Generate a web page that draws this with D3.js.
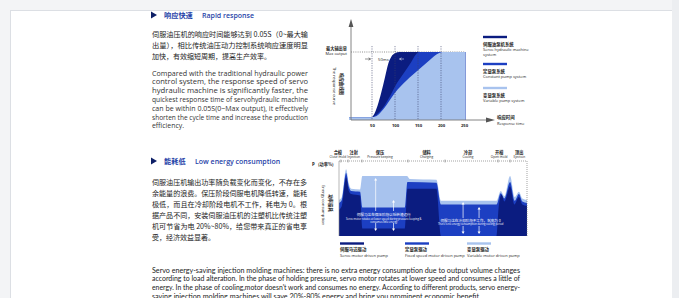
<!DOCTYPE html>
<html><head><meta charset="utf-8">
<script src="https://cdn.jsdelivr.net/npm/d3@7"></script>
<style>html,body{margin:0;padding:0;background:#f3f4f6;overflow:hidden}svg{display:block}</style>
</head><body>
<svg id="c" width="679" height="298"></svg>
<script>
// ---------- DATA ----------
// Chart 1: response curves (time ms, output %)
const respTicks = [50, 100, 150, 200, 250];
const servoT = [0, 48, 55, 62, 70, 78, 85, 92, 100, 110, 253];
const servoV = [4, 4, 9, 21, 40, 62, 82, 93, 98, 100, 100];
const constT = [0, 48, 60, 75, 90, 105, 120, 135, 145, 152, 253];
const constV = [4, 4, 8, 19, 36, 55, 70, 85, 96, 100, 100];
const varT = [0, 48, 60, 75, 100, 125, 150, 175, 195, 205, 253];
const varV = [4, 4, 6, 16, 40, 58, 73, 88, 98, 100, 100];
const legend1 = [
  {zh: "伺服油泵机系统", en: ["Servo hydraulic machine", "system"], c: "#0b1c80"},
  {zh: "定量泵系统", en: ["Constant pump system"], c: "#1c3fc2"},
  {zh: "变量泵系统", en: ["Variable pump system"], c: "#a8c3ee"}
];
// Chart 2: energy consumption (cycle %, power %)
const phases = [
  {zh: "合模", en: "Close mold", t: -0.6},
  {zh: "注射", en: "Injection", t: 7.8},
  {zh: "保压", en: "Pressure keeping", t: 21.8},
  {zh: "储料", en: "Charging", t: 46.6},
  {zh: "冷却", en: "Cooling", t: 68.6},
  {zh: "开模", en: "Open mold", t: 85.2},
  {zh: "顶出", en: "Ejection", t: 95.9}
];
const phaseTicks = [1, 4.8, 12.2, 36.7, 56.4, 84.6, 91];
const lightT = [0, 1.5, 3.8, 5.2, 6.5, 11.2, 12.4, 35, 36.2, 37.6, 51.8, 54.2, 83.8, 86, 88, 91, 93.5, 95.7, 97.5, 100];
const lightV = [48, 52, 89, 70, 63, 62, 80, 80, 80, 76, 75, 47, 47, 60, 53, 80, 52, 59, 50, 48];
const blueT = [0, 1.5, 3.8, 5.2, 6.5, 11.2, 12.4, 35, 36.4, 51.8, 54.2, 83.8, 86, 88, 91, 93.5, 95.7, 97.5, 100];
const blueV = [44, 48, 84, 66, 60, 59, 38, 38, 72, 71, 42, 42, 57, 50, 72, 47, 56, 46, 44];
const darkT = [0, 1.5, 3.8, 5.2, 6.5, 11.2, 12.4, 35, 36.4, 51.8, 54.2, 83.8, 85, 86.5, 88, 91, 93.3, 95.7, 97.5, 100];
const darkV = [35, 40, 78, 60, 56, 54, 10, 10, 63, 63, 0, 0, 40, 55, 46, 66, 42, 52, 42, 40];
const legend2 = [
  {zh: "伺服马达驱动", en: "Servo motor driven pump", c: "#0b1c80"},
  {zh: "定量泵驱动", en: "Fixed speed motor driven pump", c: "#1c3fc2"},
  {zh: "变量泵驱动", en: "Variable motor driven pump", c: "#a8c3ee"}
];
// Texts
const sec1Zh = ["伺服油压机的响应时间能够达到 0.05S（0~最大输", "出量），相比传统油压动力控制系统响应速度明显", "加快，有效缩短周期，提高生产效率。"];
const sec1En = ["Compared with the traditional hydraulic power", "control system, the response speed of servo", "hydraulic machine is significantly faster, the", "quickest response time of servohydraulic machine", "can be within 0.05S(0~Max output), it effectively", "shorten the cycle time and increase the production", "efficiency."];
const sec2Zh = ["伺服油压机输出功率随负载变化而变化，不存在多", "余能量的浪费。保压阶段伺服电机降低转速，能耗", "极低，而且在冷却阶段电机不工作，耗电为 0。根", "据产品不同，安装伺服油压机的注塑机比传统注塑", "机可节省为电 20%~80%，给您带来真正的省电享", "受，经济效益显著。"];
const sec2En = ["Servo energy-saving injection molding machines: there is no extra energy consumption due to output volume changes", "according to load alteration. In the phase of holding pressure, servo motor rotates at lower speed and consumes a little of", "energy. In the phase of cooling,motor doesn't work and consumes no energy. According to different products, servo energy-", "saving injection molding machines will save 20%-80% energy and bring you prominent economic benefit."];

// ---------- DRAW ----------
const svg = d3.select("#c");
const ZH = "'Noto Sans CJK SC', sans-serif";
const EN = "'Open Sans', sans-serif";
const DARK = "#0b1c80", BLUE = "#1c3fc2", LIGHT = "#a8c3ee";

// page
svg.append("rect").attr("x", 0).attr("y", 0).attr("width", 679).attr("height", 298).attr("fill", "#f3f4f6");
svg.append("rect").attr("x", 10.5).attr("y", 10.5).attr("width", 662).attr("height", 300).attr("fill", "#fff").attr("stroke", "#dcdfe4");
svg.append("rect").attr("x", 672).attr("y", 0).attr("width", 7).attr("height", 298).attr("fill", "#eceef1");

function header(y, zh, en, enX) {
  svg.append("path").attr("d", `M151,${y - 3.5} L157,${y} L151,${y + 3.5} Z`).attr("fill", "#0d1f66");
  svg.append("text").attr("x", 164).attr("y", y + 2.6).attr("font-family", ZH).attr("font-size", 7.2).attr("font-weight", 700).attr("fill", "#1f3fa8").text(zh);
  svg.append("text").attr("x", enX).attr("y", y + 2.5).attr("font-family", EN).attr("font-size", 7).attr("font-weight", 600).attr("fill", "#1f3fa8").text(en);
}
function para(lines, x0, y0, dy, font, size, fill, fullW, lastFull) {
  lines.forEach((s, i) => {
    const t = svg.append("text").attr("x", x0).attr("y", y0 + i * dy).attr("font-family", font).attr("font-size", size).attr("fill", fill).text(s);
    const isLast = i === lines.length - 1;
    if (!isLast || lastFull) t.attr("textLength", fullW).attr("lengthAdjust", "spacingAndGlyphs");
  });
}
header(15, "响应快速", "Rapid response", 202);
para(sec1Zh, 152, 36.5, 11, ZH, 7, "#222", 156, false);
para(sec1En, 152, 75.5, 8.8, EN, 6.9, "#333", 156, false);
header(161, "能耗低", "Low energy consumption", 195);
para(sec2Zh, 152, 184.5, 11, ZH, 7, "#222", 155, false);
para(sec2En, 152, 272.5, 8.9, "Lato, sans-serif", 7.2, "#222", 368, false);

// ---------- Chart 1 ----------
const x1 = d3.scaleLinear().domain([0, 250]).range([349, 464]);
const y1 = d3.scaleLinear().domain([0, 100]).range([120, 52]);
const g1 = svg.append("g");
g1.append("line").attr("x1", 351).attr("x2", x1(253)).attr("y1", y1(100)).attr("y2", y1(100)).attr("stroke", "#444").attr("stroke-width", 0.6).attr("stroke-dasharray", "1,1.2");
const area1 = (T, V) => d3.area().curve(d3.curveMonotoneX).x((d, i) => x1(T[i])).y0(y1(0)).y1((d, i) => y1(V[i]))(T);
g1.append("path").attr("d", area1(servoT, servoV)).attr("fill", DARK);
g1.append("path").attr("d", area1(constT, constV)).attr("fill", BLUE);
g1.append("path").attr("d", area1(varT, varV)).attr("fill", LIGHT);
respTicks.slice(0, 4).forEach(t => {
  g1.append("line").attr("x1", x1(t)).attr("x2", x1(t)).attr("y1", 46).attr("y2", 120).attr("stroke", "#3a3f6a").attr("stroke-width", 0.6).attr("stroke-dasharray", "1.2,1.2");
});
const ax1 = d3.axisBottom(x1).tickValues(respTicks).tickSize(0).tickPadding(4).tickFormat(d3.format("d"));
const gx1 = svg.append("g").attr("transform", "translate(0,120)").call(ax1);
gx1.select(".domain").remove();
gx1.selectAll("text").attr("font-family", EN).attr("font-size", 4.2).attr("font-weight", 700).attr("fill", "#222");
svg.append("line").attr("x1", 351).attr("x2", 489).attr("y1", 120).attr("y2", 120).attr("stroke", "#777").attr("stroke-width", 0.9);
svg.append("path").attr("d", "M495,120 L486,117.6 L486,122.4 Z").attr("fill", "#555");
svg.append("line").attr("x1", 351).attr("x2", 351).attr("y1", 120).attr("y2", 25).attr("stroke", "#777").attr("stroke-width", 0.9);
svg.append("path").attr("d", "M351,19 L348.6,27 L353.4,27 Z").attr("fill", "#555");
svg.append("text").attr("x", 347).attr("y", 49.5).attr("text-anchor", "end").attr("font-family", ZH).attr("font-size", 4.2).attr("font-weight", 700).attr("fill", "#222").text("最大输出量");
svg.append("text").attr("x", 347).attr("y", 54.5).attr("text-anchor", "end").attr("font-family", EN).attr("font-size", 4).attr("fill", "#222").text("Max output");
svg.append("text").attr("transform", "translate(333,86) rotate(90)").attr("text-anchor", "middle").attr("font-family", EN).attr("font-size", 4.2).attr("fill", "#222").text("The response curve");
svg.append("text").attr("transform", "translate(339.5,84) rotate(90)").attr("text-anchor", "middle").attr("font-family", ZH).attr("font-size", 4.4).attr("font-weight", 700).attr("fill", "#222").text("响应曲线图");
svg.append("path").attr("d", "M365,59 L370.5,59 M368.5,57.8 L370.5,59 L368.5,60.2").attr("stroke", "#222").attr("stroke-width", 0.5).attr("fill", "none");
svg.append("text").attr("x", 378).attr("y", 60.5).attr("font-family", EN).attr("font-size", 4.2).attr("fill", "#222").text("50ms");
svg.append("path").attr("d", "M404,59 L399.5,59 M401.5,57.8 L399.5,59 L401.5,60.2").attr("stroke", "#fff").attr("stroke-width", 0.5).attr("fill", "none");
const ly = [37, 64, 88];
legend1.forEach((d, i) => {
  svg.append("line").attr("x1", 483).attr("x2", 507).attr("y1", ly[i]).attr("y2", ly[i]).attr("stroke", d.c).attr("stroke-width", 2.4);
  svg.append("text").attr("x", 483).attr("y", ly[i] + 8.5).attr("font-family", ZH).attr("font-size", 4.4).attr("font-weight", 700).attr("fill", "#222").text(d.zh);
  d.en.forEach((e, j) => svg.append("text").attr("x", 483).attr("y", ly[i] + 14 + j * 5).attr("font-family", EN).attr("font-size", 4).attr("fill", "#222").text(e));
});
svg.append("text").attr("x", 497).attr("y", 119).attr("font-family", ZH).attr("font-size", 4.4).attr("font-weight", 700).attr("fill", "#222").text("响应时间");
svg.append("text").attr("x", 497).attr("y", 124.5).attr("font-family", EN).attr("font-size", 4).attr("fill", "#222").text("Response time");

// ---------- Chart 2 ----------
const x2 = d3.scaleLinear().domain([0, 100]).range([339, 527]);
const y2 = d3.scaleLinear().domain([0, 100]).range([236, 161]);
const area2 = (T, V) => d3.area().curve(d3.curveMonotoneX).x((d, i) => x2(T[i])).y0(y2(0)).y1((d, i) => y2(V[i]))(T);
svg.append("path").attr("d", area2(lightT, lightV)).attr("fill", LIGHT);
svg.append("path").attr("d", area2(blueT, blueV)).attr("fill", BLUE);
svg.append("path").attr("d", area2(darkT, darkV)).attr("fill", DARK);
svg.append("line").attr("x1", x2(0)).attr("x2", x2(100)).attr("y1", y2(100)).attr("y2", y2(100)).attr("stroke", "#666").attr("stroke-width", 0.6).attr("stroke-dasharray", "1,1");
svg.append("line").attr("x1", x2(100)).attr("x2", x2(100)).attr("y1", y2(100)).attr("y2", y2(0)).attr("stroke", "#666").attr("stroke-width", 0.6).attr("stroke-dasharray", "1,1");
svg.append("line").attr("x1", x2(0)).attr("x2", x2(0)).attr("y1", y2(100)).attr("y2", y2(0)).attr("stroke", "#888").attr("stroke-width", 0.6);
phaseTicks.forEach(t => svg.append("line").attr("x1", x2(t)).attr("x2", x2(t)).attr("y1", y2(100) - 1.5).attr("y2", y2(100) + 1.5).attr("stroke", "#555").attr("stroke-width", 0.5));
phases.forEach(p => {
  svg.append("text").attr("x", x2(p.t)).attr("y", 153.5).attr("text-anchor", "middle").attr("font-family", ZH).attr("font-size", 4.2).attr("font-weight", 700).attr("fill", "#222").text(p.zh);
  svg.append("text").attr("x", x2(p.t)).attr("y", 158).attr("text-anchor", "middle").attr("font-family", EN).attr("font-size", 3.2).attr("fill", "#222").text(p.en);
});
svg.append("text").attr("x", 312).attr("y", 166).attr("font-family", EN).attr("font-size", 4.4).attr("font-weight", 700).attr("fill", "#222").text("P");
svg.append("text").attr("x", 318).attr("y", 166).attr("font-family", ZH).attr("font-size", 4.2).attr("font-weight", 700).attr("fill", "#222").text("(功率%)");
svg.append("text").attr("transform", "translate(322,205) rotate(90)").attr("text-anchor", "middle").attr("font-family", EN).attr("font-size", 4.2).attr("fill", "#222").text("Energy consumption");
svg.append("text").attr("transform", "translate(328.5,203) rotate(90)").attr("text-anchor", "middle").attr("font-family", ZH).attr("font-size", 4.4).attr("font-weight", 700).attr("fill", "#222").text("功率损耗");
function arrow(x, yFrom, yTo) {
  const dir = yTo < yFrom ? 1 : -1;
  svg.append("line").attr("x1", x).attr("x2", x).attr("y1", yFrom).attr("y2", yTo + dir * 2).attr("stroke", "#fff").attr("stroke-width", 0.7);
  svg.append("path").attr("d", `M${x},${yTo} L${x - 1.5},${yTo + dir * 2.5} L${x + 1.5},${yTo + dir * 2.5} Z`).attr("fill", "#fff");
}
arrow(x2(19.5), 211, 178); arrow(x2(29), 211, 200); arrow(x2(19.5), 223, 231); arrow(x2(29), 223, 231);
svg.append("text").attr("x", x2(23.8)).attr("y", 215.5).attr("text-anchor", "middle").attr("font-family", ZH).attr("font-size", 3.6).attr("fill", "#fff").text("伺服马达在保压阶段以低转速运行");
svg.append("text").attr("x", x2(23.8)).attr("y", 219.5).attr("text-anchor", "middle").attr("font-family", EN).attr("font-size", 2.6).attr("fill", "#fff").text("Servo motor rotates at lower speed during pressure keeping &");
svg.append("text").attr("x", x2(23.8)).attr("y", 222.5).attr("text-anchor", "middle").attr("font-family", EN).attr("font-size", 2.6).attr("fill", "#fff").text("consumes little energy");
arrow(x2(66), 218, 202); arrow(x2(74.5), 218, 207); arrow(x2(66), 226, 234); arrow(x2(74.5), 226, 234);
svg.append("text").attr("x", x2(70)).attr("y", 221.5).attr("text-anchor", "middle").attr("font-family", ZH).attr("font-size", 3.6).attr("fill", "#fff").text("伺服马达在冷却阶段不工作，耗电为 0");
svg.append("text").attr("x", x2(70)).attr("y", 225).attr("text-anchor", "middle").attr("font-family", EN).attr("font-size", 2.6).attr("fill", "#fff").text("There is no energy consumption during cooling period");
const lx = [340, 405, 467];
legend2.forEach((d, i) => {
  svg.append("line").attr("x1", lx[i]).attr("x2", lx[i] + 24).attr("y1", 243.5).attr("y2", 243.5).attr("stroke", d.c).attr("stroke-width", 2.4);
  svg.append("text").attr("x", lx[i]).attr("y", 250.5).attr("font-family", ZH).attr("font-size", 4.4).attr("font-weight", 700).attr("fill", "#222").text(d.zh);
  svg.append("text").attr("x", lx[i]).attr("y", 256.5).attr("font-family", EN).attr("font-size", 4).attr("fill", "#222").text(d.en);
});
</script>
</body></html>
